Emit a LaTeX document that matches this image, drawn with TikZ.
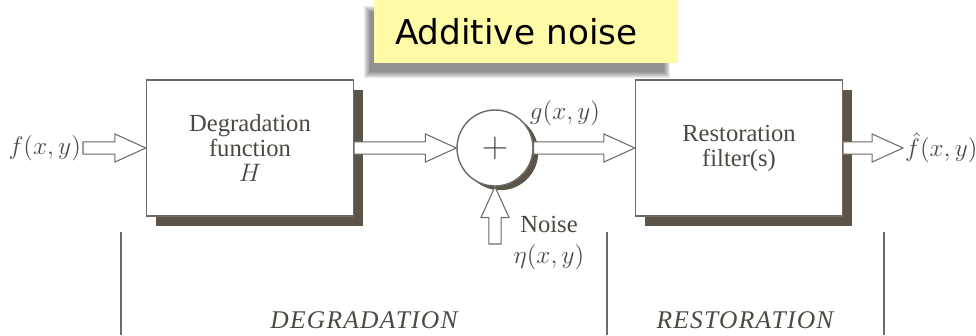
\documentclass[tikz,border=0pt]{standalone}
\usepackage{fontspec}
\setmainfont{Liberation Serif}
\newfontfamily\notefont{DejaVu Sans}
\newfontfamily\partfont[LetterSpace=5]{Liberation Serif}
\usetikzlibrary{calc,positioning,shadows}
\definecolor{figtext}{RGB}{78,72,66}
\definecolor{figline}{RGB}{112,106,100}
\definecolor{figshadow}{RGB}{92,84,75}
\definecolor{noteyellow}{RGB}{255,250,165}

\begin{document}
\begin{tikzpicture}[x=0.02cm, y=-0.02cm,
    block/.style={rectangle, draw=figline, line width=0.8pt, fill=white, minimum width=4.14cm, minimum height=2.72cm, align=center, text=figtext, font=\fontsize{14}{14.2}\selectfont, drop shadow={shadow xshift=5.6pt, shadow yshift=-5.6pt, fill=figshadow, opacity=1}},
    sumnode/.style={circle, draw=figline, line width=0.8pt, fill=white, minimum size=1.52cm, inner sep=0pt, text=figtext, font=\fontsize{20}{20}\selectfont, drop shadow={shadow xshift=3pt, shadow yshift=-2.4pt, fill=figshadow, opacity=1}},
    lbl/.style={inner sep=1pt, text=figtext, font=\fontsize{14}{17.5}\selectfont, align=center},
    part/.style={text=figtext, font=\partfont\fontsize{14.5}{14.5}\selectfont\itshape},
    sepline/.style={draw=figline, line width=0.6pt},
    note/.style={fill=noteyellow, text width=5.24cm, inner xsep=0.42cm, inner ysep=0pt, minimum height=1.26cm, align=left, font=\notefont\fontsize{19.5}{20}\selectfont},
    blockarrow/.style={draw=figline, fill=white, line width=0.6pt, to path={
        ($(\tikztotarget)!17.6pt!(\tikztostart)$) coordinate (ahb)
        ($(\tikztostart)!3.5pt!90:(\tikztotarget)$)
        -- ($(ahb)!3.5pt!-90:(\tikztostart)$) -- ($(ahb)!8pt!-90:(\tikztostart)$)
        -- (\tikztotarget)
        -- ($(ahb)!8pt!90:(\tikztostart)$) -- ($(ahb)!3.5pt!90:(\tikztostart)$)
        -- ($(\tikztostart)!3.5pt!-90:(\tikztotarget)$) -- cycle}},
]
\useasboundingbox (0,0) rectangle (976,335);

% yellow note with soft shadow
\foreach \i in {0,...,6}
    \fill[black, opacity=0.08] (370-\i,12-\i) rectangle (664+\i,72+\i);
\node[note] (note) at (526,31.5) {Additive noise};

% blocks
\node[block] (deg) at (250,148) {Degradation\\function\\$H$};
\node[sumnode] (sum) at (495,148) {$+$};
\node[block] (rest) at (739,148) {Restoration\\filter(s)};

% signals
\node[lbl, anchor=east] (fin) at (83,148) {$f(x,y)$};
\node[lbl] (glab) at (565,113) {$g(x,y)$};
\node[lbl] (noiselab) at (549,243) {Noise\\$\eta(x,y)$};
\node[lbl, anchor=west] (fout) at (903,148) {$\hat{f}(x,y)$};
\coordinate (noisein) at (495,244);

\draw[blockarrow] (fin.east) to (deg.west);
\draw[blockarrow] (deg.east) to (sum.west);
\draw[blockarrow] (sum.east) to (rest.west);
\draw[blockarrow] (noisein) to (sum.south);
\draw[blockarrow] (rest.east) to (fout.west);

% stage brackets
\draw[sepline] (121,232) -- (121,335);
\draw[sepline] (607,232) -- (607,335);
\draw[sepline] (884,232) -- (884,335);
\node[part] (degpart) at (364,320) {DEGRADATION};
\node[part] (restpart) at (745,320) {RESTORATION};
\end{tikzpicture}
\end{document}
